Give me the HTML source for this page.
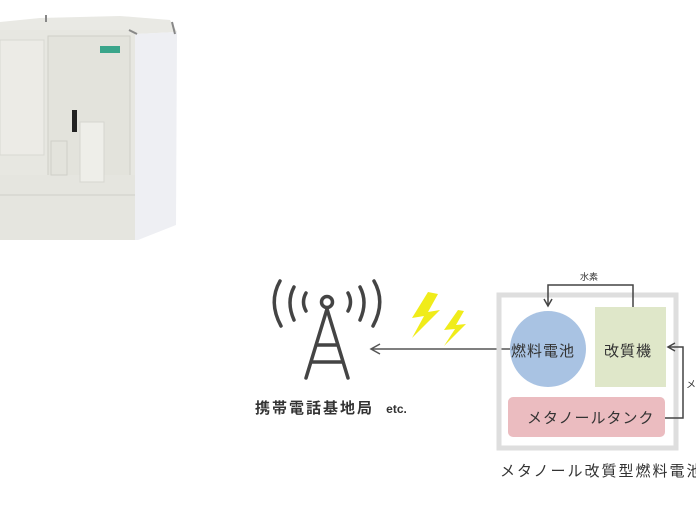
<!DOCTYPE html>
<html><head><meta charset="utf-8"><style>
body{margin:0;width:696px;height:522px;background:#fff;overflow:hidden;position:relative;font-family:"Liberation Sans","Noto Sans CJK JP",sans-serif;}
.a{position:absolute;white-space:nowrap}
</style></head><body>
<svg class="a" style="left:0;top:0" width="696" height="522" viewBox="0 0 696 522">
<polygon points="0,22 40,18 120,16 170,20 177,32 137,34 0,30" fill="#e9e9e4"/>
<rect x="0" y="30" width="135" height="210" fill="#e7e7e1"/>
<polygon points="135,34 177,32 176,225 138,240 135,240" fill="#eeeff3"/>
<rect x="0" y="40" width="44" height="115" fill="#ecebe6" stroke="#d8d8d2"/>
<rect x="48" y="36" width="82" height="157" fill="#e3e3dc" stroke="#cfcfc8"/>
<rect x="0" y="175" width="135" height="65" fill="#e5e5df"/>
<line x1="0" y1="195" x2="135" y2="195" stroke="#d0d0ca"/>
<rect x="100" y="46" width="20" height="7" fill="#3aa58a"/>
<rect x="72" y="110" width="5" height="22" fill="#222"/>
<rect x="80" y="122" width="24" height="60" fill="#eeeee9" stroke="#d6d6d0"/>
<rect x="51" y="141" width="16" height="34" fill="none" stroke="#cfcfc8"/>
<line x1="129" y1="30" x2="137" y2="34" stroke="#888" stroke-width="2"/>
<line x1="172" y1="22" x2="175" y2="34" stroke="#888" stroke-width="2"/>
<line x1="46" y1="15" x2="46" y2="22" stroke="#888" stroke-width="2"/>
<g fill="none" stroke="#444" stroke-width="3.5" stroke-linecap="round">
<circle cx="327" cy="302" r="5.5"/>
<path d="M306 293 Q301 302 306 311"/><path d="M348 293 Q353 302 348 311"/>
<path d="M294 287 Q286 302 294 320"/><path d="M360 287 Q368 302 360 320"/>
<path d="M280 281 Q268 302 281 326"/><path d="M374 281 Q386 302 373 326"/>
<path d="M327 309 L306 378 M327 309 L348 378 M316 345 L338 345 M311 362 L343 362"/>
</g>
<polygon points="428,292 412,318 424,316 412,338 440,310 428,312 438,294" fill="#f0ec1a"/>
<polygon points="458,310 444,330 455,329 444,346 466,324 456,325 464,311" fill="#f0ec1a"/>
<line x1="510" y1="349" x2="372" y2="349" stroke="#555" stroke-width="1.5"/>
<polyline points="380,344 371,349 380,354" fill="none" stroke="#555" stroke-width="1.5"/>
<rect x="499" y="295" width="177" height="153" fill="none" stroke="#dedede" stroke-width="5"/>
<circle cx="548" cy="349" r="38" fill="#a9c3e3"/>
<rect x="595" y="307" width="71" height="80" fill="#dfe7c9"/>
<rect x="508" y="397" width="157" height="40" rx="5" fill="#ebbcc0"/>
<polyline points="633,307 633,285 548,285 548,306" fill="none" stroke="#444" stroke-width="1.5"/>
<polyline points="544,299 548,306 552,299" fill="none" stroke="#444" stroke-width="1.5"/>
<polyline points="665,418 683,418 683,347 669,347" fill="none" stroke="#444" stroke-width="1.5"/>
<polyline points="675,343 668,347 675,351" fill="none" stroke="#444" stroke-width="1.5"/>
</svg>
<div class="a" style="left:580px;top:270px;font-size:9px;color:#333">水素</div>
<div class="a" style="left:686px;top:376px;font-size:10px;color:#333">メ</div>
<div class="a" style="left:511px;top:340px;font-size:15px;letter-spacing:1px;color:#333">燃料電池</div>
<div class="a" style="left:604px;top:340px;font-size:15px;letter-spacing:1px;color:#333">改質機</div>
<div class="a" style="left:527px;top:407px;font-size:15px;letter-spacing:1px;color:#333">メタノールタンク</div>
<div class="a" style="left:255px;top:397px;font-size:15px;letter-spacing:2px;color:#333;font-weight:bold">携帯電話基地局 <span style="font-size:12px;letter-spacing:0;margin-left:6px">etc.</span></div>
<div class="a" style="left:500px;top:460px;font-size:15px;letter-spacing:2px;color:#333">メタノール改質型燃料電池</div>
</body></html>
